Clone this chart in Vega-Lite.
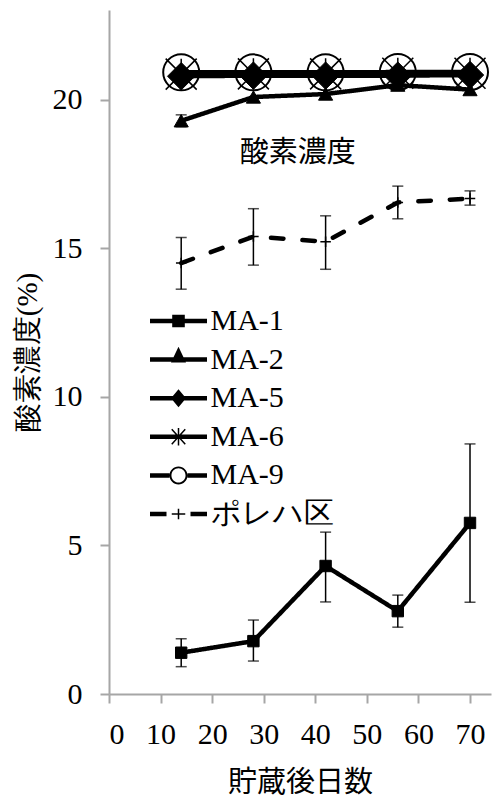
{
  "$schema": "https://vega.github.io/schema/vega-lite/v6.json",
  "width": 382,
  "height": 684,
  "autosize": {"type": "none"},
  "padding": {"left": 109, "top": 10, "right": 1, "bottom": 105},
  "background": "white",
  "config": {
    "view": {"stroke": null},
    "axis": {
      "domainColor": "#a6a6a6", "domainWidth": 2,
      "tickColor": "#a6a6a6", "tickWidth": 2, "tickSize": 9,
      "grid": false,
      "labelFont": "Liberation Serif", "labelFontSize": 30, "labelColor": "black",
      "titleFont": "Liberation Serif", "titleFontSize": 29, "titleFontWeight": "normal", "titleColor": "black"
    }
  },
  "datasets": {
    "obs": [
      {"series": "MA-1", "day": 14, "value": 1.39, "lo": 0.92, "hi": 1.86},
      {"series": "MA-1", "day": 28, "value": 1.78, "lo": 1.11, "hi": 2.49},
      {"series": "MA-1", "day": 42, "value": 4.31, "lo": 3.10, "hi": 5.45},
      {"series": "MA-1", "day": 56, "value": 2.79, "lo": 2.25, "hi": 3.33},
      {"series": "MA-1", "day": 70, "value": 5.76, "lo": 3.09, "hi": 8.42},
      {"series": "MA-2", "day": 14, "value": 19.3, "lo": 19.1, "hi": 19.5},
      {"series": "MA-2", "day": 28, "value": 20.1},
      {"series": "MA-2", "day": 42, "value": 20.2},
      {"series": "MA-2", "day": 56, "value": 20.5},
      {"series": "MA-2", "day": 70, "value": 20.35},
      {"series": "MA-5", "day": 14, "value": 20.8},
      {"series": "MA-5", "day": 28, "value": 20.82},
      {"series": "MA-5", "day": 42, "value": 20.82},
      {"series": "MA-5", "day": 56, "value": 20.82},
      {"series": "MA-5", "day": 70, "value": 20.84},
      {"series": "MA-6", "day": 14, "value": 20.87},
      {"series": "MA-6", "day": 28, "value": 20.88},
      {"series": "MA-6", "day": 42, "value": 20.88},
      {"series": "MA-6", "day": 56, "value": 20.9},
      {"series": "MA-6", "day": 70, "value": 20.9},
      {"series": "MA-9", "day": 14, "value": 20.93},
      {"series": "MA-9", "day": 28, "value": 20.93},
      {"series": "MA-9", "day": 42, "value": 20.93},
      {"series": "MA-9", "day": 56, "value": 20.94},
      {"series": "MA-9", "day": 70, "value": 20.94},
      {"series": "ポレハ区", "day": 14, "value": 14.51, "lo": 13.63, "hi": 15.37},
      {"series": "ポレハ区", "day": 28, "value": 15.4, "lo": 14.44, "hi": 16.34},
      {"series": "ポレハ区", "day": 42, "value": 15.23, "lo": 14.3, "hi": 16.1},
      {"series": "ポレハ区", "day": 56, "value": 16.55, "lo": 16.0, "hi": 17.1},
      {"series": "ポレハ区", "day": 70, "value": 16.68, "lo": 16.46, "hi": 16.94}
    ],
    "note": [{"day": 36.6, "value": 18.2, "text": "酸素濃度"}]
  },
  "data": {"name": "obs"},
  "encoding": {
    "x": {
      "field": "day", "type": "quantitative",
      "scale": {"domain": [0, 74.07], "nice": false, "zero": false},
      "title": "貯蔵後日数",
      "axis": {"values": [0, 10, 20, 30, 40, 50, 60, 70], "labelPadding": 16, "titleY": 88, "titleBaseline": "middle", "titleFont": "Noto Sans CJK JP"}
    },
    "y": {
      "field": "value", "type": "quantitative",
      "scale": {"domain": [0, 23.03], "nice": false},
      "title": "酸素濃度(%)",
      "axis": {"values": [0, 5, 10, 15, 20], "labelPadding": 18, "titleX": -82, "titleY": 342, "titleAngle": -90, "titleBaseline": "middle", "titleAlign": "center"}
    }
  },
  "layer": [
    {
      "transform": [{"filter": "isValid(datum.lo)"}],
      "mark": {"type": "errorbar", "color": "black", "ticks": {"size": 11, "thickness": 1.5, "color": "black"}, "rule": {"strokeWidth": 1.5, "color": "black"}},
      "encoding": {
        "y": {"field": "lo", "type": "quantitative", "title": "酸素濃度(%)"},
        "y2": {"field": "hi"}
      }
    },
    {
      "mark": {"type": "line", "color": "black", "strokeWidth": 4.5, "strokeCap": "round", "strokeJoin": "round"},
      "encoding": {
        "detail": {"field": "series", "type": "nominal"},
        "strokeDash": {
          "field": "series", "type": "nominal",
          "scale": {"domain": ["MA-1", "MA-2", "MA-5", "MA-6", "MA-9", "ポレハ区"], "range": [[1, 0], [1, 0], [1, 0], [1, 0], [1, 0], [12.5, 19]]},
          "legend": null
        }
      }
    },
    {
      "transform": [{"filter": "datum.series == 'MA-1'"}],
      "mark": {"type": "point", "shape": "square", "size": 130, "filled": true, "color": "black", "stroke": "black", "strokeWidth": 1, "opacity": 1}
    },
    {
      "transform": [{"filter": "datum.series == 'MA-2'"}],
      "mark": {"type": "point", "shape": "triangle-up", "size": 200, "filled": true, "color": "black", "stroke": "black", "strokeWidth": 1, "opacity": 1}
    },
    {
      "transform": [{"filter": "datum.series == 'MA-5'"}],
      "mark": {"type": "point", "shape": "diamond", "size": 750, "filled": true, "color": "black", "stroke": "black", "strokeWidth": 1, "opacity": 1}
    },
    {
      "transform": [{"filter": "datum.series == 'MA-6'"}],
      "mark": {"type": "point", "shape": "M-1,-1L1,1M-1,1L1,-1M0,-1L0,1", "size": 961, "filled": false, "color": "black", "strokeWidth": 1.5, "opacity": 1}
    },
    {
      "transform": [{"filter": "datum.series == 'MA-9'"}],
      "mark": {"type": "point", "shape": "circle", "size": 1296, "filled": false, "color": "black", "strokeWidth": 2, "opacity": 1}
    },
    {
      "transform": [{"filter": "datum.series == 'ポレハ区'"}],
      "mark": {"type": "point", "shape": "M-1,0L1,0M0,-1L0,1", "size": 110, "filled": false, "color": "black", "strokeWidth": 1.5, "opacity": 1}
    },
    {
      "transform": [{"filter": "datum.day == 14"}],
      "mark": {"type": "point", "filled": true, "color": "black", "opacity": 0},
      "encoding": {
        "shape": {
          "field": "series", "type": "nominal",
          "scale": {
            "domain": ["MA-1", "MA-2", "MA-5", "MA-6", "MA-9", "ポレハ区"],
            "range": [
              "M-1.9,-0.15H1.9V0.15H-1.9Z M-0.42,-0.42H0.42V0.42H-0.42Z",
              "M-1.9,-0.15H1.9V0.15H-1.9Z M0,-0.85L0.5,0.2L-0.5,0.2Z",
              "M-1.9,-0.15H1.9V0.15H-1.9Z M0,-0.6L0.5,0L0,0.6L-0.5,0Z",
              "M-1.9,-0.15H1.9V0.15H-1.9Z M-0.487,-0.467L-0.413,-0.533L0.487,0.467L0.413,0.533Z M-0.413,0.533L-0.487,0.467L0.413,-0.533L0.487,-0.467Z M-0.05,-0.58H0.05V0.58H-0.05Z",
              "M-1.9,-0.15H-0.6V0.15H-1.9Z M0.6,-0.15H1.9V0.15H0.6Z M0.6,0A0.6,0.6 0 1,1 -0.6,0A0.6,0.6 0 1,1 0.6,0Z M0.47,0A0.47,0.47 0 1,0 -0.47,0A0.47,0.47 0 1,0 0.47,0Z",
              "M-1.9,-0.15H-0.8V0.15H-1.9Z M0.8,-0.15H1.9V0.15H0.8Z M-0.45,-0.05H0.45V0.05H-0.45Z M-0.05,-0.35H0.05V0.35H-0.05Z"
            ]
          },
          "legend": {
            "title": null,
            "orient": "none",
            "legendX": 54.5,
            "legendY": 296,
            "padding": 0,
            "symbolSize": 900,
            "rowPadding": 8.6,
            "labelOffset": 17,
            "labelFont": "Liberation Serif",
            "labelFontSize": 30,
            "labelColor": "black",
            "labelLimit": 300,
            "symbolOpacity": 1,
            "symbolFillColor": "black",
            "symbolStrokeColor": "black",
            "symbolStrokeWidth": 0,
            "encode": {"symbols": {"update": {"opacity": {"value": 1}, "fill": {"value": "black"}, "fillOpacity": {"value": 1}, "strokeWidth": {"value": 0}}}}
          }
        }
      }
    },
    {
      "data": {"name": "note"},
      "mark": {"type": "text", "font": "Noto Sans CJK JP", "fontSize": 29, "color": "black", "align": "center", "baseline": "middle"},
      "encoding": {"text": {"field": "text", "type": "nominal"}}
    }
  ],
  "resolve": {"scale": {"shape": "independent"}, "legend": {"shape": "independent"}}
}
